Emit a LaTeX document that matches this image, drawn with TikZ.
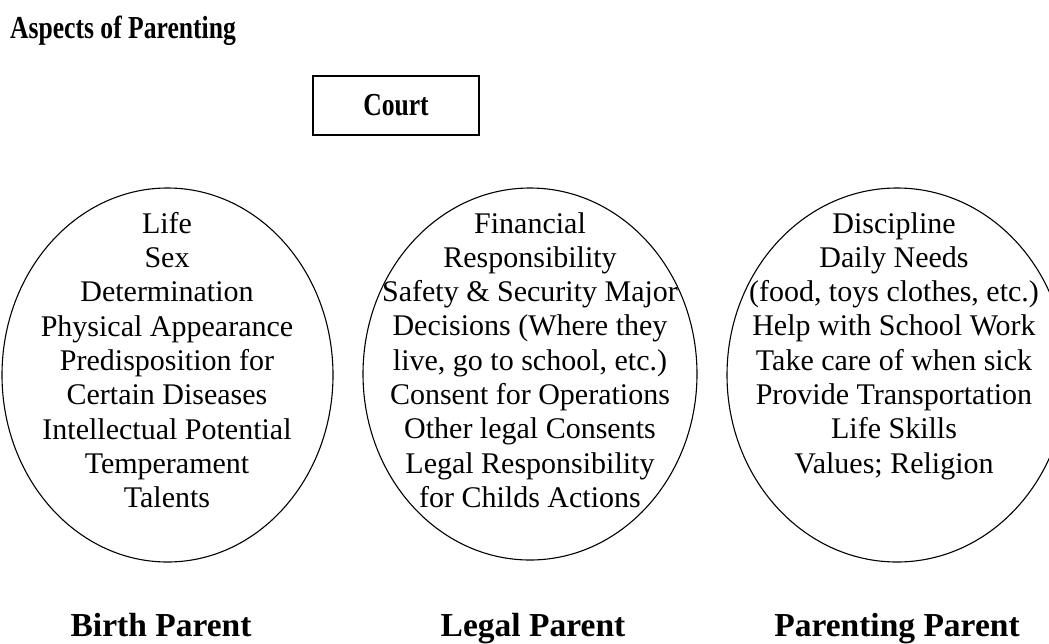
\documentclass[tikz,border=0pt]{standalone}
\usepackage{fontspec}
\setmainfont{Liberation Serif}
\usetikzlibrary{shapes.geometric}
\newcommand{\cond}[1]{\scalebox{0.8}[1]{#1}}

\begin{document}
\begin{tikzpicture}[x=1pt,y=-1pt,
  aspecto/.style={draw,ellipse,line width=1.1pt,inner sep=0pt},
  lista/.style={anchor=north,align=center,inner sep=0pt,
    font=\fontsize{30}{34.3}\selectfont},
  padre/.style={anchor=base,inner sep=0pt,
    font=\bfseries\fontsize{33.5}{40}\selectfont},
  encabezado/.style={font=\bfseries\fontsize{32}{38}\selectfont}]
  % Marco
  \clip (0,0) rectangle (1049,643);
  % Titulo
  \node[encabezado,anchor=base west,inner sep=0pt] (titulo) at (10,38) {\cond{Aspects of Parenting}};
  % Tribunal
  \node[encabezado,draw,line width=1.3pt,minimum width=166pt,minimum height=59pt] (court) at (396,105.5) {\cond{Court}};
  % Elipses
  \node[aspecto,minimum width=331pt,minimum height=374pt] (birth) at (167.5,375) {};
  \node[aspecto,minimum width=334pt,minimum height=372pt] (legal) at (530,374) {};
  \node[aspecto,minimum width=340pt,minimum height=374pt] (parenting) at (897,375) {};
  % Contenido
  \node[lista] (birthtxt) at (167,212) {Life\\ Sex\\ Determination\\ Physical Appearance\\ Predisposition for\\ Certain Diseases\\ Intellectual Potential\\ Temperament\\ Talents};
  \node[lista] (legaltxt) at (530,212) {Financial\\ Responsibility\\ Safety \& Security Major\\ Decisions (Where they\\ live, go to school, etc.)\\ Consent for Operations\\ Other legal Consents\\ Legal Responsibility\\ for Childs Actions};
  \node[lista] (parentingtxt) at (894,212) {Discipline\\ Daily Needs\\ (food, toys clothes, etc.)\\ Help with School Work\\ Take care of when sick\\ Provide Transportation\\ Life Skills\\ Values; Religion};
  % Etiquetas
  \node[padre] (birthlbl) at (161,636) {Birth Parent};
  \node[padre] (legallbl) at (533,636) {Legal Parent};
  \node[padre] (parentinglbl) at (897,636) {Parenting Parent};
\end{tikzpicture}
\end{document}
